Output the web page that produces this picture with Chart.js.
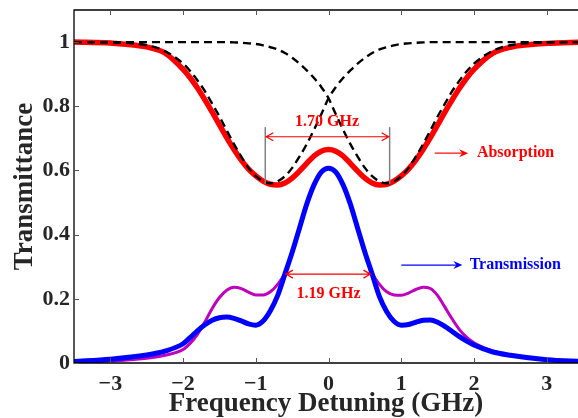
<!DOCTYPE html>
<html>
<head>
<meta charset="utf-8">
<script src="https://cdn.jsdelivr.net/npm/chart.js@4.4.1/dist/chart.umd.min.js"></script>
<style>
  html, body { margin: 0; padding: 0; background: #fff; overflow: hidden; }
</style>
</head>
<body>
<canvas id="chart" width="578" height="418"></canvas>
<script>
// Detuning grid (GHz) and the curves
const xs = [-3.5, -3, -2.5, -2.25, -2, -1.9, -1.8, -1.7, -1.6, -1.5, -1.4, -1.3, -1.2, -1.1, -1, -0.9, -0.8, -0.7, -0.6, -0.5, -0.4, -0.3, -0.2, -0.1, 0,
            0.1, 0.2, 0.3, 0.4, 0.5, 0.6, 0.7, 0.8, 0.9, 1, 1.1, 1.2, 1.3, 1.4, 1.5, 1.6, 1.7, 1.8, 1.9, 2, 2.25, 2.5, 3, 3.5];

const absorption = [1.0, 0.997, 0.985, 0.966, 0.915, 0.888, 0.856, 0.82, 0.782, 0.742, 0.702, 0.665, 0.632, 0.604, 0.583, 0.567, 0.557, 0.555, 0.561, 0.576, 0.598, 0.622, 0.645, 0.66, 0.665,
                    0.66, 0.645, 0.622, 0.598, 0.576, 0.561, 0.555, 0.557, 0.567, 0.583, 0.604, 0.632, 0.665, 0.702, 0.742, 0.782, 0.82, 0.856, 0.888, 0.915, 0.964, 0.984, 0.996, 1.0];

const dipLeft = [1, 0.999, 0.99, 0.972, 0.933, 0.909, 0.88, 0.847, 0.808, 0.768, 0.725, 0.682, 0.643, 0.608, 0.582, 0.566, 0.56, 0.566, 0.582, 0.608, 0.643, 0.682, 0.727, 0.775, 0.825,
                 0.86, 0.888, 0.912, 0.933, 0.951, 0.966, 0.977, 0.984, 0.99, 0.994, 0.996, 0.998, 0.999, 1, 1, 1, 1, 1, 1, 1, 1, 1, 1, 1];

const dipRight = [1, 1, 1, 1, 1, 1, 1, 1, 1, 1, 1, 0.999, 0.998, 0.996, 0.994, 0.99, 0.984, 0.977, 0.966, 0.951, 0.933, 0.912, 0.888, 0.86, 0.825,
                  0.775, 0.727, 0.682, 0.643, 0.608, 0.582, 0.566, 0.56, 0.566, 0.582, 0.608, 0.643, 0.682, 0.725, 0.768, 0.808, 0.847, 0.88, 0.909, 0.933, 0.972, 0.99, 0.999, 1];

const transmission = [0.005, 0.012, 0.025, 0.037, 0.06, 0.08, 0.101, 0.119, 0.133, 0.141, 0.143, 0.139, 0.131, 0.122, 0.118, 0.131, 0.163, 0.21, 0.277, 0.345, 0.42, 0.495, 0.555, 0.595, 0.607,
                      0.595, 0.555, 0.495, 0.42, 0.345, 0.277, 0.207, 0.16, 0.13, 0.118, 0.12, 0.127, 0.133, 0.134, 0.127, 0.114, 0.098, 0.082, 0.068, 0.056, 0.035, 0.024, 0.01, 0.005];

const transmission2 = [0.003, 0.006, 0.015, 0.024, 0.042, 0.062, 0.09, 0.128, 0.17, 0.204, 0.227, 0.236, 0.232, 0.221, 0.212, 0.212, 0.222, 0.245, 0.28, 0.345, 0.42, 0.495, 0.555, 0.595, 0.607,
                       0.595, 0.555, 0.495, 0.42, 0.345, 0.28, 0.245, 0.222, 0.212, 0.211, 0.218, 0.229, 0.236, 0.232, 0.21, 0.174, 0.137, 0.104, 0.08, 0.063, 0.038, 0.025, 0.01, 0.005];

const xTicks = [-3, -2, -1, 0, 1, 2, 3];
const yTicks = [0, 0.2, 0.4, 0.6, 0.8, 1];

const TEXT = '#262626';
const SERIF = '"Liberation Serif", "Times New Roman", serif';

const pts = ys => xs.map((x, i) => ({ x: x, y: ys[i] }));

const line = (data, color, width, dash) => ({
    data: pts(data),
    borderColor: color,
    borderWidth: width,
    borderDash: dash || [],
    pointRadius: 0,
    fill: false,
    cubicInterpolationMode: 'monotone'
});

// Frame, inward ticks and the annotations
const decorations = {
    id: 'decorations',
    afterDatasetsDraw(chart) {
        const { ctx, scales: { x, y } } = chart;
        const px = v => x.getPixelForValue(v);
        const py = v => y.getPixelForValue(v);

        ctx.save();
        // gray markers at the two dips
        ctx.strokeStyle = '#808080';
        ctx.lineWidth = 1.5;
        [-0.87, 0.84].forEach(v => {
            ctx.beginPath();
            ctx.moveTo(px(v), py(0.558));
            ctx.lineTo(px(v), py(0.735));
            ctx.stroke();
        });

        // double arrows
        const dbl = (x0, x1, yv) => {
            const a = px(x0), b = px(x1), c = py(yv);
            ctx.strokeStyle = '#ff0000';
            ctx.lineWidth = 1.2;
            ctx.beginPath();
            ctx.moveTo(a, c); ctx.lineTo(b, c);
            ctx.moveTo(a + 8, c - 4); ctx.lineTo(a + 1, c); ctx.lineTo(a + 8, c + 4);
            ctx.moveTo(b - 8, c - 4); ctx.lineTo(b - 1, c); ctx.lineTo(b - 8, c + 4);
            ctx.stroke();
        };
        dbl(-0.87, 0.84, 0.705);
        dbl(-0.6, 0.59, 0.277);

        ctx.font = 'bold 16px ' + SERIF;
        ctx.fillStyle = '#ff0000';
        ctx.textAlign = 'center';
        ctx.textBaseline = 'middle';
        ctx.fillText('1.70 GHz', px(-0.02), py(0.752));
        ctx.fillText('1.19 GHz', px(0), py(0.215));

        // label arrows
        const pointer = (x0, x1, yv, color) => {
            const a = px(x0), b = px(x1), c = py(yv);
            ctx.strokeStyle = color;
            ctx.fillStyle = color;
            ctx.lineWidth = 1.2;
            ctx.beginPath();
            ctx.moveTo(a, c); ctx.lineTo(b - 4, c);
            ctx.stroke();
            ctx.beginPath();
            ctx.moveTo(b, c);
            ctx.lineTo(b - 9, c - 4);
            ctx.lineTo(b - 6, c);
            ctx.lineTo(b - 9, c + 4);
            ctx.closePath();
            ctx.fill();
        };
        pointer(1.46, 1.92, 0.654, '#ff0000');
        pointer(1.0, 1.84, 0.305, '#0000ff');

        ctx.font = 'bold 16px ' + SERIF;
        ctx.textAlign = 'left';
        ctx.fillStyle = '#ff0000';
        ctx.fillText('Absorption', px(2.04), py(0.654));
        ctx.fillStyle = '#0000ff';
        ctx.fillText('Transmission', px(1.94), py(0.305));
        ctx.restore();
    },
    afterDraw(chart) {
        const { ctx, chartArea: a, scales: { x, y } } = chart;
        ctx.save();
        ctx.strokeStyle = '#000';
        ctx.lineWidth = 1.3;
        ctx.beginPath();
        ctx.moveTo(a.right + 2, a.top);
        ctx.lineTo(a.left, a.top);
        ctx.lineTo(a.left, a.bottom);
        ctx.lineTo(a.right + 2, a.bottom);
        ctx.stroke();

        ctx.strokeStyle = '#555';
        ctx.lineWidth = 1;
        ctx.beginPath();
        xTicks.forEach(v => {
            const p = Math.round(x.getPixelForValue(v)) + 0.5;
            ctx.moveTo(p, a.bottom); ctx.lineTo(p, a.bottom - 5);
            ctx.moveTo(p, a.top); ctx.lineTo(p, a.top + 5);
        });
        yTicks.forEach(v => {
            const p = Math.round(y.getPixelForValue(v)) + 0.5;
            ctx.moveTo(a.left, p); ctx.lineTo(a.left + 5, p);
        });
        ctx.stroke();
        ctx.restore();
    }
};

new Chart(document.getElementById('chart'), {
    type: 'line',
    data: {
        datasets: [
            line(transmission, '#0000ff', 5),
            line(transmission2, '#bf00bf', 3),
            line(dipLeft, '#000000', 2.4, [8, 5]),
            line(dipRight, '#000000', 2.4, [8, 5]),
            line(absorption, '#ff0000', 5.5)
        ]
    },
    options: {
        responsive: false,
        animation: false,
        events: [],
        layout: { padding: { top: 10, right: 0, left: 0, bottom: 0 } },
        plugins: { legend: { display: false }, tooltip: { enabled: false } },
        scales: {
            x: {
                type: 'linear',
                min: -3.5,
                max: 3.43,
                afterBuildTicks: s => { s.ticks = xTicks.map(v => ({ value: v })); },
                afterFit: s => { s.height = 55; s.paddingLeft = 0; s.paddingRight = 0; },
                grid: { display: false, drawTicks: false },
                border: { display: false },
                ticks: {
                    padding: 8,
                    color: TEXT,
                    font: { family: SERIF, size: 22, weight: 'bold' },
                    maxRotation: 0,
                    callback: v => String(v).replace('-', '\u2212')
                },
                title: {
                    display: true,
                    text: 'Frequency Detuning (GHz)',
                    color: TEXT,
                    font: { family: SERIF, size: 27, weight: 'bold', lineHeight: 1.05 },
                    padding: { top: 0, bottom: 0 }
                }
            },
            y: {
                min: 0,
                max: 1.1,
                afterBuildTicks: s => { s.ticks = yTicks.map(v => ({ value: v })); },
                afterFit: s => { s.width = 74; s.paddingTop = 0; s.paddingBottom = 0; },
                grid: { display: false, drawTicks: false },
                border: { display: false },
                ticks: {
                    padding: 4,
                    color: TEXT,
                    font: { family: SERIF, size: 22, weight: 'bold' },
                    callback: v => String(v)
                },
                title: {
                    display: true,
                    text: 'Transmittance',
                    color: TEXT,
                    font: { family: SERIF, size: 27, weight: 'bold' },
                    padding: { top: 9, bottom: 0 }
                }
            }
        }
    },
    plugins: [decorations]
});
</script>
</body>
</html>
